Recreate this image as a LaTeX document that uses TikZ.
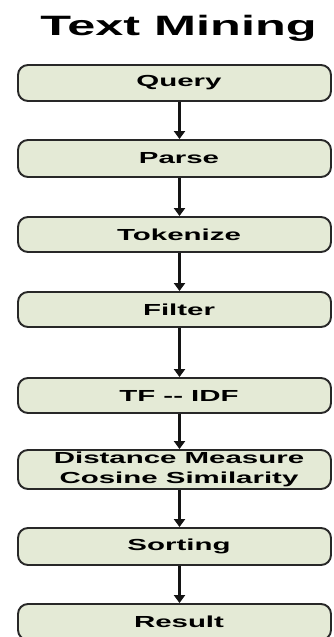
\documentclass[tikz,border=0pt]{standalone}
\usepackage{fontspec}
\usepackage{graphicx}
\setmainfont{Liberation Sans}
\usetikzlibrary{arrows.meta}
\definecolor{boxfill}{RGB}{228,234,214}
\definecolor{boxline}{RGB}{40,40,40}
\definecolor{arrcol}{RGB}{20,20,20}
\newcommand{\wtxt}[1]{\hspace*{9pt}\scalebox{1.84}[1]{#1}}
\tikzset{
  stagebox/.style={draw=boxline, line width=1.9pt, fill=boxfill, rounded corners=10pt,
    minimum width=313pt, inner sep=0pt, font=\fontsize{16}{20}\selectfont\bfseries},
  flowarrow/.style={draw=arrcol, line width=2.3pt, -{Triangle[width=11pt,length=8pt]}},
  titletext/.style={font=\fontsize{28}{32}\selectfont\bfseries, inner sep=0pt}
}
\begin{document}
\begin{tikzpicture}[x=1pt,y=-1pt]
\path[use as bounding box] (0,0) rectangle (334,637);
\clip (0,0) rectangle (334,637);
\fill[white] (0,0) rectangle (334,637);
\node[titletext, anchor=base] (title) at (178.5,35) {\scalebox{1.8}[1]{Text Mining}};
\node[stagebox, minimum height=36pt] (query) at (174.5,83) {\wtxt{Query}};
\node[stagebox, minimum height=37pt] (parse) at (174.5,158.5) {\wtxt{Parse}};
\node[stagebox, minimum height=35pt] (token) at (174.5,234.5) {\wtxt{Tokenize}};
\node[stagebox, minimum height=35pt] (filter) at (174.5,309.5) {\wtxt{Filter}};
\node[stagebox, minimum height=35pt] (tfidf) at (174.5,395.5) {\wtxt{TF -{}- IDF}};
\node[stagebox, minimum height=39pt, align=center] (dist) at (174.5,469.5) {\wtxt{Distance Measure}\\\wtxt{Cosine Similarity}};
\node[stagebox, minimum height=37pt] (sort) at (174.5,546.5) {\wtxt{Sorting}};
\node[stagebox, minimum height=36pt] (result) at (174.5,622) {\wtxt{Result}};
\coordinate (ax) at (179.5,0);
\draw[flowarrow] (query.south -| ax) -- (parse.north -| ax);
\draw[flowarrow] (parse.south -| ax) -- (token.north -| ax);
\draw[flowarrow] (token.south -| ax) -- (filter.north -| ax);
\draw[flowarrow] (filter.south -| ax) -- (tfidf.north -| ax);
\draw[flowarrow] (tfidf.south -| ax) -- (dist.north -| ax);
\draw[flowarrow] (dist.south -| ax) -- (sort.north -| ax);
\draw[flowarrow] (sort.south -| ax) -- (result.north -| ax);
\end{tikzpicture}
\end{document}
